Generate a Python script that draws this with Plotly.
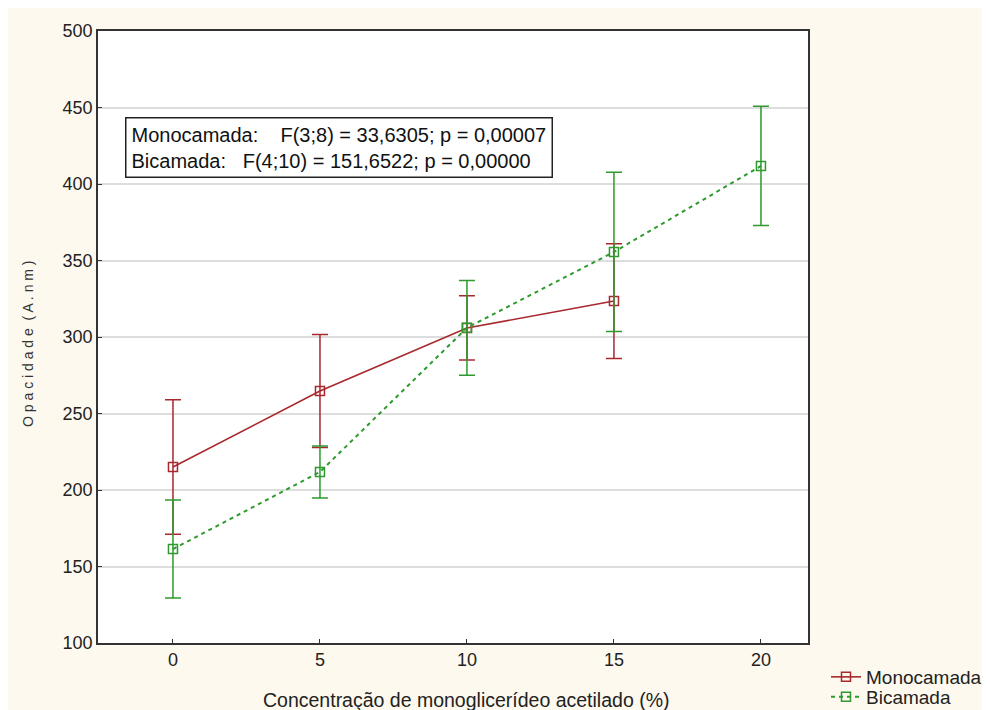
import plotly.graph_objects as go

x_vals = [0, 5, 10, 15, 20]
mono_x = [0, 5, 10, 15]
mono_y = [215, 264.7, 305.9, 323.5]
mono_err = [44, 37, 21, 37.5]
bi_x = [0, 5, 10, 15, 20]
bi_y = [161.4, 211.8, 306, 355.6, 411.8]
bi_err = [32, 17, 31, 52, 39]
y_ticks = [100, 150, 200, 250, 300, 350, 400, 450, 500]

RED = "#A8282E"
GREEN = "#2E9A2E"
font = "Liberation Sans, Arial, sans-serif"

W, H = 982, 702
L, T, PW, PH = 90, 23, 710, 612

fig = go.Figure()
fig.add_trace(go.Scatter(
    x=mono_x, y=mono_y, name="Monocamada", mode="lines+markers", legend="legend",
    line=dict(color=RED, width=1.6),
    marker=dict(symbol="square-open", size=9, color=RED, line=dict(width=1.5)),
    error_y=dict(type="data", array=mono_err, color=RED, thickness=1.5, width=8),
))
fig.add_trace(go.Scatter(
    x=bi_x, y=bi_y, name="Bicamada", mode="lines+markers", legend="legend2",
    line=dict(color=GREEN, width=2, dash="4px,4px"),
    marker=dict(symbol="square-open", size=9, color=GREEN, line=dict(width=1.5)),
    error_y=dict(type="data", array=bi_err, color=GREEN, thickness=1.5, width=8),
))

leg_common = dict(xref="container", yref="container", xanchor="left", yanchor="middle",
                  bgcolor="rgba(0,0,0,0)", font=dict(size=19, color="#222"),
                  itemwidth=30)

fig.update_layout(
    width=W, height=H,
    margin=dict(l=L, r=W - L - PW, t=T, b=H - T - PH, autoexpand=False),
    paper_bgcolor="#FDF9EF",
    plot_bgcolor="white",
    font=dict(family=font, color="#222222"),
    showlegend=True,
    legend=dict(x=818 / W, y=1 - 669 / H, **leg_common),
    legend2=dict(x=818 / W, y=1 - 689 / H, **leg_common),
    xaxis=dict(range=[-2.55, 21.6], tickvals=x_vals, ticks="inside", ticklen=4,
               tickcolor="#333", showgrid=False, zeroline=False,
               showline=True, linecolor="#333", linewidth=1.5, mirror=True,
               tickfont=dict(size=18, color="#222")),
    yaxis=dict(range=[100, 500], tickvals=y_ticks, ticks="inside", ticklen=4,
               tickcolor="#333", showgrid=True, gridcolor="#DDDDDD", gridwidth=1.5,
               zeroline=False, showline=True, linecolor="#333", linewidth=1.5,
               mirror=True, tickfont=dict(size=18, color="#222")),
)

fig.add_annotation(
    xref="paper", yref="paper", x=(458 - L) / PW, y=(T + PH - 692) / PH,
    xanchor="center", yanchor="middle", showarrow=False,
    text="Concentração de monoglicerídeo acetilado (%)",
    font=dict(size=19.5, color="#222"),
)
fig.add_annotation(
    xref="paper", yref="paper", x=(20 - L) / PW, y=(T + PH - 336) / PH,
    xanchor="center", yanchor="middle", showarrow=False, textangle=-90,
    text="O p a c i d a d e  ( A . n m )",
    font=dict(size=14, color="#333"),
)
fig.add_annotation(
    xref="paper", yref="paper", x=(117 - L) / PW, y=(T + PH - 109) / PH,
    xanchor="left", yanchor="top", align="left", showarrow=False,
    text="Monocamada:    F(3;8) = 33,6305; p = 0,00007<br>Bicamada:   F(4;10) = 151,6522; p = 0,00000",
    font=dict(size=20, color="#111"),
    bordercolor="#222", borderwidth=1.5, bgcolor="white", borderpad=5,
)

fig.write_html("out.html")
